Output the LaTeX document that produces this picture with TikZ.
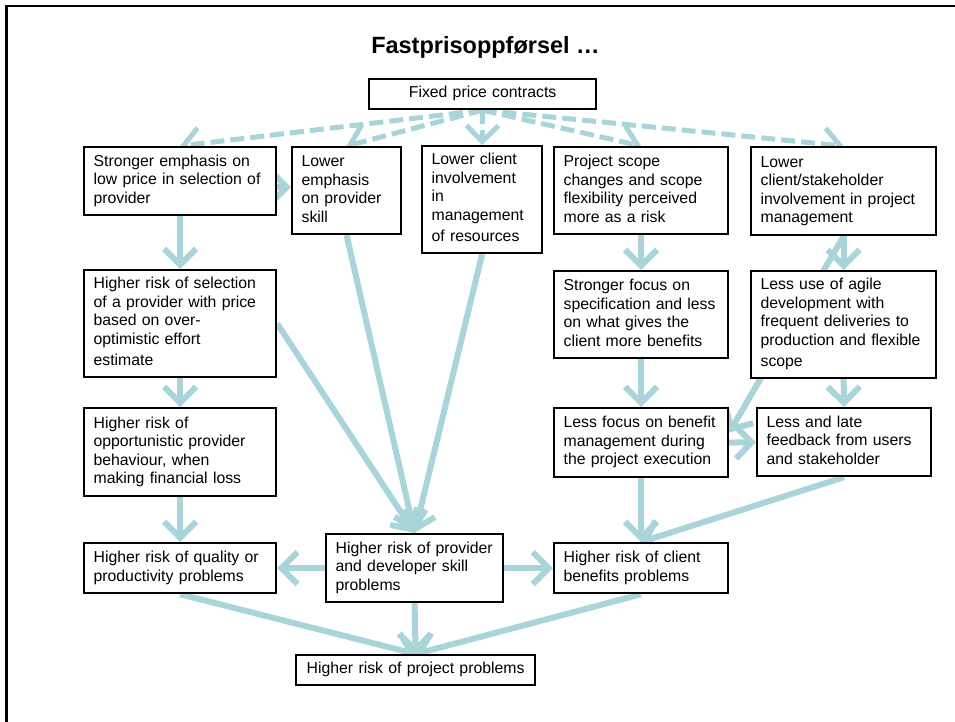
\documentclass[tikz,border=0pt]{standalone}
\usepackage{fontspec}
\setmainfont{Liberation Sans}
\usetikzlibrary{arrows.meta,backgrounds,calc}
\definecolor{linkblue}{RGB}{168,212,218}

\begin{document}
\begin{tikzpicture}[x=1pt, y=-1pt,
    cbox/.style={draw, line width=2.2pt, fill=white, anchor=north west, align=left,
        inner xsep=9.5pt, inner ysep=0pt, font=\fontsize{15.8}{18.5}\selectfont,
        execute at begin node=\strut, execute at end node=\strut},
    link/.style={draw=linkblue, line width=6pt, -{Straight Barb[length=16pt,width=32pt]}},
    dlink/.style={link, line width=5pt, dash pattern=on 14pt off 6pt}]

        \useasboundingbox (0,0) rectangle (955,722);
        \draw[line width=2.5pt] (6.5,722) -- (6.5,6) -- (955,6);

        \node[font=\fontsize{23.5}{28}\selectfont\bfseries, anchor=base] (title) at (485.5,54) {Fastprisoppførsel …};

        \node[cbox, align=center, text width=208pt, minimum height=30pt] (fixed) at (368,78) {Fixed price contracts};

        \node[cbox, text width=173pt, minimum height=68pt] (stronger) at (83,146) {Stronger emphasis on\\ low price in selection of\\ provider};
        \node[cbox, text width=90pt, minimum height=87pt] (loweremph) at (291,146) {Lower\\ emphasis\\ on provider\\ skill};
        \node[cbox, text width=101pt, minimum height=107pt] (lowerclient) at (421,145) {Lower client\\ involvement\\ in\\ management\\[3pt] of resources};
        \node[cbox, text width=155pt, minimum height=87pt] (scope) at (553,146) {Project scope\\ changes and scope\\ flexibility perceived\\ more as a risk};
        \node[cbox, text width=166pt, minimum height=88pt] (lowerstake) at (750,146) {Lower\\ client/stakeholder\\ involvement in project\\ management};

        \node[cbox, text width=173pt, minimum height=107pt] (selection) at (83,269) {Higher risk of selection\\ of a provider with price\\ based on over-\\ optimistic effort\\[3pt] estimate};
        \node[cbox, text width=155pt, minimum height=87pt] (focus) at (553,270) {Stronger focus on\\ specification and less\\ on what gives the\\ client more benefits};
        \node[cbox, text width=166pt, minimum height=107pt] (agile) at (750,270) {Less use of agile\\ development with\\ frequent deliveries to\\ production and flexible\\[3pt] scope};

        \node[cbox, text width=173pt, minimum height=88pt] (opport) at (83,407) {Higher risk of\\ opportunistic provider\\ behaviour, when\\ making financial loss};
        \node[cbox, text width=155pt, minimum height=69pt] (lessfocus) at (553,407) {Less focus on benefit\\ management during\\ the project execution};
        \node[cbox, text width=155pt, minimum height=68pt] (feedback) at (756,407) {Less and late\\ feedback from users\\ and stakeholder};

        \node[cbox, text width=173pt, minimum height=50pt] (quality) at (83,542) {Higher risk of quality or\\ productivity problems};
        \node[cbox, text width=158pt, minimum height=68pt] (provskill) at (325,533) {Higher risk of provider\\ and developer skill\\ problems};
        \node[cbox, text width=155pt, minimum height=50pt] (clientben) at (553,542) {Higher risk of client\\ benefits problems};

        \node[cbox, align=center, text width=220pt, minimum height=30pt] (project) at (295,654) {Higher risk of project problems};

        \begin{scope}[on background layer]
        \draw[dlink] (fixed.south) -- (stronger.north);
        \draw[dlink] (fixed.south) -- (loweremph.north);
        \draw[dlink] (fixed.south) -- (lowerclient.north);
        \draw[dlink] (fixed.south) -- (scope.north);
        \draw[dlink] (fixed.south) -- (lowerstake.north);

        \draw[link] ([yshift=-6pt]stronger.east) -- ([yshift=-6pt]stronger.east -| loweremph.west);
        \draw[link] (stronger.south) -- (selection.north);
        \draw[link] (selection.south) -- (opport.north);
        \draw[link] (opport.south) -- (quality.north);

        \draw[link] (selection.east) -- (provskill.north);
        \draw[link] (loweremph.south) -- (provskill.north);
        \draw[link] (lowerclient.south) -- (provskill.north);

        \draw[link] (scope.south) -- (focus.north);
        \draw[link] (focus.south) -- (lessfocus.north);
        \draw[link] (lowerstake.south) -- (agile.north);
        \draw[link] (lowerstake.south) -- ($(lessfocus.east)+(0,-10)$);
        \draw[link] (agile.south) -- (feedback.north);
        \draw[link] (lessfocus.east) -- (feedback.west);
        \draw[link] (lessfocus.south) -- (clientben.north);
        \draw[link] (feedback.south) -- (clientben.north);

        \draw[link] (provskill.west) -- (quality.east);
        \draw[link] (provskill.east) -- (clientben.west);
        \draw[link] (quality.south) -- (project.north);
        \draw[link] (provskill.south) -- (project.north);
        \draw[link] (clientben.south) -- (project.north);
        \end{scope}
    \end{tikzpicture}
\end{document}
